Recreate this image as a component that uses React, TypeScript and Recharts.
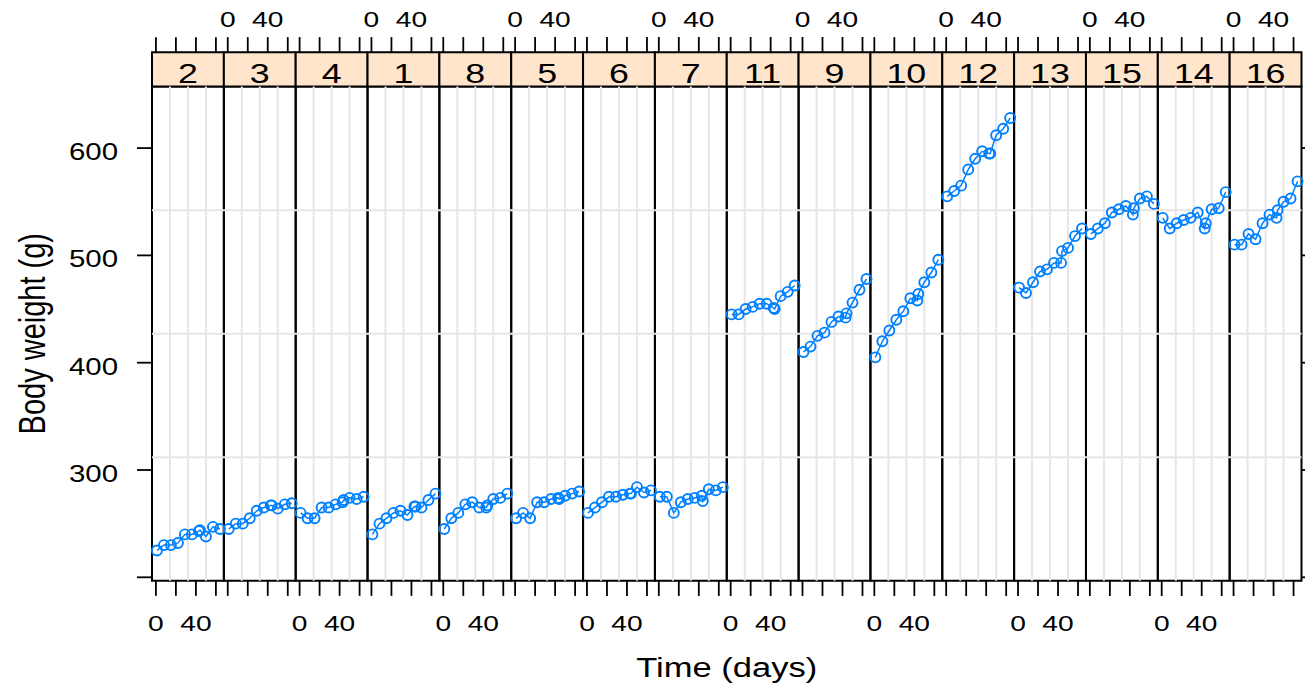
import React from 'react';
import { LineChart, Line, XAxis, YAxis, ReferenceLine, ReferenceArea } from 'recharts';

// ---- data (BodyWeight, rats on a diet) ----
const TIMES = [1, 8, 15, 22, 29, 36, 43, 44, 50, 57, 64];
const rat1 = [240, 250, 255, 260, 262, 258, 266, 266, 265, 272, 278];
const rat2 = [225, 230, 230, 232, 240, 240, 243, 244, 238, 247, 245];
const rat3 = [245, 250, 250, 255, 262, 265, 267, 267, 264, 268, 269];
const rat4 = [260, 255, 255, 265, 265, 268, 270, 272, 274, 273, 275];
const rat5 = [255, 260, 255, 270, 270, 273, 274, 273, 276, 278, 280];
const rat6 = [260, 265, 270, 275, 275, 277, 278, 278, 284, 279, 281];
const rat7 = [275, 275, 260, 270, 273, 274, 276, 271, 282, 281, 284];
const rat8 = [245, 255, 260, 268, 270, 265, 265, 267, 273, 274, 278];
const rat9 = [410, 415, 425, 428, 438, 443, 442, 446, 456, 468, 478];
const rat10 = [405, 420, 430, 440, 448, 460, 458, 464, 475, 484, 496];
const rat11 = [445, 445, 450, 452, 455, 455, 451, 450, 462, 466, 472];
const rat12 = [555, 560, 565, 580, 590, 597, 595, 595, 612, 618, 628];
const rat13 = [470, 465, 475, 485, 487, 493, 493, 504, 507, 518, 525];
const rat14 = [535, 525, 530, 533, 535, 540, 525, 530, 543, 544, 559];
const rat15 = [520, 525, 530, 540, 543, 546, 538, 544, 553, 555, 548];
const rat16 = [510, 510, 520, 515, 530, 538, 535, 542, 550, 553, 569];

const PANEL_LABELS = ['2', '3', '4', '1', '8', '5', '6', '7', '11', '9', '10', '12', '13', '15', '14', '16'];
const PANEL_SERIES = [rat2, rat3, rat4, rat1, rat8, rat5, rat6, rat7, rat11, rat9, rat10, rat12, rat13, rat15, rat14, rat16];

const X_TICKS = [0, 20, 40, 60];
const X_TICK_LABELS = [0, 40];
const Y_TICKS = [200, 300, 400, 500, 600];
const Y_TICK_LABELS = [300, 400, 500, 600];

// ---- layout / style constants ----
const FONT = '"Liberation Sans", Arial, Helvetica, sans-serif';
const SX = 1.28; // horizontal text stretch of the reference
const BLUE = '#0080ff';
const GRID = '#e6e6e6';
const STRIP = '#ffe5cc';
const TINY = 0.01;

const N = PANEL_LABELS.length;
const W = 71.84; // x-units per panel
const XA = -3.9;
const XB = XA + W;
const Y_MIN = 196.7;
const Y_PANEL_TOP = 657.3;
const Y_MAX = 689.4;

const xDomain = (i: number): [number, number] => [XA - i * W, XB + (N - 1 - i) * W];
const vGrid = [XA + W / 4, XA + W / 2, XA + (3 * W) / 4];
const hGrid = [
  Y_MIN + (Y_PANEL_TOP - Y_MIN) / 4,
  Y_MIN + (Y_PANEL_TOP - Y_MIN) / 2,
  Y_MIN + (3 * (Y_PANEL_TOP - Y_MIN)) / 4,
];

const stretchText = (x: number, y: number, text: string | number, size: number, anchor: string = 'middle') => (
  <text
    transform={`translate(${x},${y}) scale(${SX},1)`}
    textAnchor={anchor}
    fontSize={size}
    fontFamily={FONT}
    fill="#000"
  >
    {text}
  </text>
);

const makeBottomTick = (show: boolean) => (props: any) => {
  const { x, y, payload } = props;
  if (!show || !X_TICK_LABELS.includes(payload.value)) return <g />;
  return stretchText(x, y + 35, payload.value, 22);
};

const makeTopTick = (show: boolean) => (props: any) => {
  const { x, y, payload } = props;
  if (!show || !X_TICK_LABELS.includes(payload.value)) return <g />;
  return stretchText(x, y - 10, payload.value, 22);
};

const LeftTick = (props: any) => {
  const { x, y, payload } = props;
  if (!Y_TICK_LABELS.includes(payload.value)) return <g />;
  return stretchText(x - 19, y + 12, payload.value, 23, 'end');
};

const EmptyTick = () => <g />;

const timeLabel = (props: any) => {
  const vb = props.viewBox || {};
  return stretchText(vb.x + vb.width / 2, vb.y + 96, 'Time (days)', 27);
};

const weightLabel = (props: any) => {
  const vb = props.viewBox || {};
  const pxPerUnit = vb.height / (Y_MAX - Y_MIN);
  const cy = vb.y + (Y_MAX - (Y_MIN + Y_PANEL_TOP) / 2) * pxPerUnit;
  const cx = vb.x - 107;
  return (
    <text
      transform={`translate(${cx},${cy}) scale(${SX},1) rotate(-90)`}
      textAnchor="middle"
      fontSize={29}
      fontFamily={FONT}
      fill="#000"
    >
      Body weight (g)
    </text>
  );
};

const makeStripLabel = (text: string) => (props: any) => {
  const vb = props.viewBox || {};
  return stretchText(vb.x + vb.width / 2, vb.y + vb.height - 4, text, 28);
};

const DotMark = (props: any) => {
  const { cx, cy } = props;
  if (cx == null || cy == null) return <g />;
  return <circle cx={cx} cy={cy} r={5} fill="none" stroke={BLUE} strokeWidth={1.9} />;
};

export default function App() {
  const panels = PANEL_SERIES.map((vals) => TIMES.map((t, k) => ({ t, w: vals[k] })));
  const tickLineStyle = { stroke: '#000', strokeWidth: 1.8 };
  return (
    <div style={{ position: 'absolute', left: 0, top: 0, width: 1305, height: 692, background: '#fff' }}>
      <LineChart width={1305} height={692} margin={{ top: 52, right: 3.5, bottom: 111, left: 152 }}>
        {PANEL_LABELS.map((lab, i) => (
          <XAxis
            key={`xb${i}`}
            xAxisId={i}
            orientation="bottom"
            type="number"
            dataKey="t"
            domain={xDomain(i)}
            ticks={X_TICKS}
            interval={0}
            height={TINY}
            axisLine={false}
            stroke="#000"
            tickSize={15}
            tickMargin={0}
            tickLine={tickLineStyle}
            tick={makeBottomTick(i % 2 === 0)}
            label={i === 0 ? timeLabel : undefined}
          />
        ))}
        {PANEL_LABELS.map((lab, i) => (
          <XAxis
            key={`xt${i}`}
            xAxisId={`t${i}`}
            orientation="top"
            type="number"
            dataKey="t"
            domain={xDomain(i)}
            ticks={X_TICKS}
            interval={0}
            height={TINY}
            axisLine={false}
            stroke="#000"
            tickSize={15}
            tickMargin={0}
            tickLine={tickLineStyle}
            tick={makeTopTick(i % 2 === 1)}
          />
        ))}
        <YAxis
          yAxisId={0}
          type="number"
          domain={[Y_MIN, Y_MAX]}
          ticks={Y_TICKS}
          interval={0}
          width={TINY}
          axisLine={false}
          stroke="#000"
          tickSize={15}
          tickMargin={0}
          tickLine={tickLineStyle}
          tick={LeftTick}
          label={weightLabel}
        />
        <YAxis
          yAxisId="r"
          orientation="right"
          type="number"
          domain={[Y_MIN, Y_MAX]}
          ticks={Y_TICKS}
          interval={0}
          width={TINY}
          axisLine={false}
          stroke="#000"
          tickSize={15}
          tickMargin={0}
          tickLine={tickLineStyle}
          tick={EmptyTick}
        />

        {hGrid.map((gy, k) => (
          <ReferenceLine key={`hg${k}`} xAxisId={0} yAxisId={0} y={gy} stroke={GRID} strokeWidth={2} ifOverflow="visible" />
        ))}
        {PANEL_LABELS.map((lab, i) =>
          vGrid.map((gx, k) => (
            <ReferenceLine
              key={`vg${i}-${k}`}
              xAxisId={i}
              yAxisId={0}
              segment={[
                { x: gx, y: Y_MIN },
                { x: gx, y: Y_PANEL_TOP },
              ]}
              stroke={GRID}
              strokeWidth={2}
              ifOverflow="visible"
            />
          ))
        )}

        {/* invisible companions so the top / right axes are bound to data */}
        {panels.map((data, i) => (
          <Line
            key={`h${i}`}
            xAxisId={`t${i}`}
            yAxisId="r"
            data={data}
            dataKey="w"
            stroke="none"
            dot={false}
            activeDot={false}
            legendType="none"
            isAnimationActive={false}
          />
        ))}

        {panels.map((data, i) => (
          <Line
            key={`l${i}`}
            xAxisId={i}
            yAxisId={0}
            data={data}
            dataKey="w"
            type="linear"
            stroke={BLUE}
            strokeWidth={1.5}
            dot={<DotMark />}
            activeDot={false}
            isAnimationActive={false}
          />
        ))}

        {PANEL_LABELS.map((lab, i) => (
          <ReferenceArea
            key={`pb${i}`}
            xAxisId={i}
            yAxisId={0}
            x1={XA}
            x2={XB}
            y1={Y_MIN}
            y2={Y_PANEL_TOP}
            fill="none"
            fillOpacity={0}
            stroke="#000"
            strokeWidth={2}
            ifOverflow="visible"
          />
        ))}
        {PANEL_LABELS.map((lab, i) => (
          <ReferenceArea
            key={`st${i}`}
            xAxisId={i}
            yAxisId={0}
            x1={XA}
            x2={XB}
            y1={Y_PANEL_TOP}
            y2={Y_MAX}
            fill={STRIP}
            fillOpacity={1}
            stroke="#000"
            strokeWidth={2}
            ifOverflow="visible"
            label={makeStripLabel(lab)}
          />
        ))}
      </LineChart>
    </div>
  );
}
